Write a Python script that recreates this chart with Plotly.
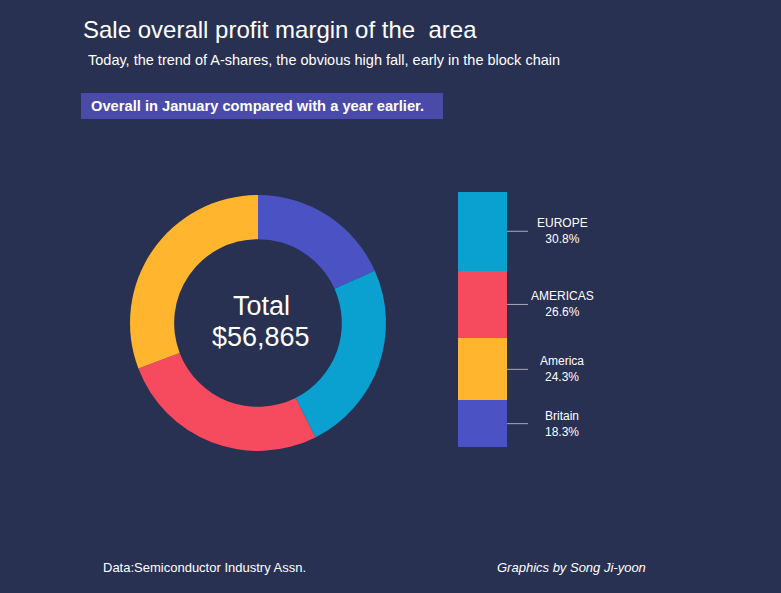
import plotly.graph_objects as go

W, H = 781, 593

# ---- data ----
regions = ["Britain", "America", "AMERICAS", "EUROPE"]
shares = [18.3, 24.3, 26.6, 30.8]
bar_colors = ["#4a52c4", "#ffb52e", "#f64a5e", "#0aa0d0"]
pie_colors = ["#4a52c4", "#0aa0d0", "#f64a5e", "#ffb52e"]
total_label = "$56,865"

BG = "#283151"
FONT = "Liberation Sans, Arial, sans-serif"


def px(x):
    return x / W


def py(y):
    return 1 - y / H


fig = go.Figure()

# donut
fig.add_trace(go.Pie(
    labels=regions, values=shares, hole=0.655, sort=False,
    direction="clockwise", rotation=0,
    marker=dict(colors=pie_colors, line=dict(width=0)),
    textinfo="none", hoverinfo="label+percent", showlegend=False,
    domain=dict(x=[px(130), px(386)], y=[py(451), py(195)]),
))

# stacked bar
for r, s, c in zip(regions, shares, bar_colors):
    fig.add_trace(go.Bar(
        x=[0], y=[s], width=1, name=r, marker=dict(color=c, line=dict(width=0)),
        showlegend=False, hoverinfo="name+y",
        xaxis="x", yaxis="y",
    ))

shapes = []
annotations = []
cum = 0
for r, s in zip(regions, shares):
    mid = cum + s / 2
    cum += s
    shapes.append(dict(type="line", xref="paper", yref="y",
                       x0=px(507), x1=px(528), y0=mid, y1=mid,
                       line=dict(color="rgba(200,200,210,0.8)", width=1)))
    annotations.append(dict(xref="paper", yref="y", x=px(562), y=mid,
                            text=f"{r}<br>{s:.1f}%", showarrow=False,
                            xanchor="center", yanchor="middle",
                            font=dict(color="white", size=12, family=FONT)))

# header box
shapes.append(dict(type="rect", xref="paper", yref="paper",
                   x0=px(81), x1=px(443), y0=py(119), y1=py(93),
                   fillcolor="#4a4aa8", line=dict(width=0), layer="below"))

annotations += [
    dict(xref="paper", yref="paper", x=px(81), y=py(29), text="Sale overall profit margin of the  area",
         showarrow=False, xanchor="left", yanchor="middle",
         font=dict(color="white", size=24, family=FONT)),
    dict(xref="paper", yref="paper", x=px(86), y=py(60),
         text="Today, the trend of A-shares, the obvious high fall, early in the block chain",
         showarrow=False, xanchor="left", yanchor="middle",
         font=dict(color="white", size=14.5, family=FONT)),
    dict(xref="paper", yref="paper", x=px(89), y=py(106),
         text="<b>Overall in January compared with a year earlier.</b>",
         showarrow=False, xanchor="left", yanchor="middle",
         font=dict(color="white", size=14.7, family=FONT)),
    dict(xref="paper", yref="paper", x=px(261), y=py(306), text="Total",
         showarrow=False, xanchor="center", yanchor="middle",
         font=dict(color="white", size=27, family=FONT)),
    dict(xref="paper", yref="paper", x=px(261), y=py(337), text=total_label,
         showarrow=False, xanchor="center", yanchor="middle",
         font=dict(color="white", size=27, family=FONT)),
    dict(xref="paper", yref="paper", x=px(101), y=py(567), text="Data:Semiconductor Industry Assn.",
         showarrow=False, xanchor="left", yanchor="middle",
         font=dict(color="white", size=13, family=FONT)),
    dict(xref="paper", yref="paper", x=px(648), y=py(567), text="<i>Graphics by Song Ji-yoon</i>",
         showarrow=False, xanchor="right", yanchor="middle",
         font=dict(color="white", size=13, family=FONT)),
]

fig.update_layout(
    width=W, height=H,
    margin=dict(l=0, r=0, t=0, b=0),
    paper_bgcolor=BG, plot_bgcolor="rgba(0,0,0,0)",
    barmode="stack", bargap=0,
    xaxis=dict(domain=[px(458), px(507)], range=[-0.5, 0.5], visible=False, fixedrange=True),
    yaxis=dict(domain=[py(447), py(192)], range=[0, 100], visible=False, fixedrange=True),
    shapes=shapes, annotations=annotations,
    font=dict(family=FONT, color="white"),
)

fig.write_html(
    "out.html",
    config={"displayModeBar": False},
    post_script="document.body.style.margin='0';document.body.style.background='" + BG + "';",
)
